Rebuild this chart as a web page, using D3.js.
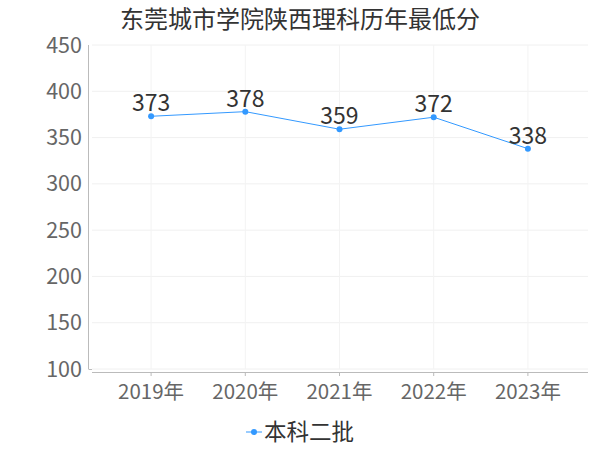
<!DOCTYPE html>
<html><head><meta charset="utf-8">
<script src="https://cdn.jsdelivr.net/npm/d3@7"></script>
<style>body{margin:0;background:#fff}text{font-family:"Noto Sans CJK SC","Noto Sans",sans-serif}</style>
</head><body><svg id="c" width="600" height="450"></svg>
<script>
const categories = ["2019年","2020年","2021年","2022年","2023年"];
const values = [373, 378, 359, 372, 338];
const yTicks = [100,150,200,250,300,350,400,450];
const seriesName = "本科二批";
const title = "东莞城市学院陕西理科历年最低分";

const svg = d3.select("#c");
const color = "#3399ff";
const x = d3.scalePoint().domain(categories).range([104, 575]).padding(0.5);
const y = d3.scaleLinear().domain([100, 450]).range([369, 45]);

// grid
svg.append("g").selectAll("line").data(yTicks).join("line")
  .attr("x1", 92).attr("x2", 588).attr("y1", d => y(d)).attr("y2", d => y(d))
  .attr("stroke", "#f0f0f0").attr("stroke-width", 1);
svg.append("g").selectAll("line").data(categories).join("line")
  .attr("x1", d => x(d)).attr("x2", d => x(d)).attr("y1", 45).attr("y2", 369)
  .attr("stroke", "#f3f3f3").attr("stroke-width", 1);

// y axis
svg.append("line").attr("x1", 88.5).attr("x2", 88.5).attr("y1", 45).attr("y2", 369).attr("stroke", "#bbb");
svg.append("line").attr("x1", 88.5).attr("x2", 92).attr("y1", 369.5).attr("y2", 369.5).attr("stroke", "#bbb");
svg.append("g").selectAll("text").data(yTicks).join("text")
  .attr("x", 82).attr("y", d => y(d)).attr("dy", "0.35em").attr("text-anchor", "end")
  .attr("font-size", 21.5).attr("fill", "#666").text(d => d);

// x axis
svg.append("line").attr("x1", 92).attr("x2", 588).attr("y1", 372.5).attr("y2", 372.5).attr("stroke", "#bbb");
svg.append("g").selectAll("line").data(categories).join("line")
  .attr("x1", d => x(d)).attr("x2", d => x(d)).attr("y1", 372).attr("y2", 376).attr("stroke", "#bbb");
svg.append("g").selectAll("text").data(categories).join("text")
  .attr("x", d => x(d)).attr("y", 392).attr("dy", "0.35em").attr("text-anchor", "middle")
  .attr("font-size", 20.5).attr("fill", "#666").text(d => d);

// line
const data = categories.map((c, i) => ({c, v: values[i]}));
svg.append("path").datum(data)
  .attr("d", d3.line().x(d => x(d.c)).y(d => y(d.v)))
  .attr("fill", "none").attr("stroke", color).attr("stroke-width", 1);
svg.append("g").selectAll("circle").data(data).join("circle")
  .attr("cx", d => x(d.c)).attr("cy", d => y(d.v)).attr("r", 3).attr("fill", color);
svg.append("g").selectAll("text").data(data).join("text")
  .attr("x", d => x(d.c)).attr("y", d => y(d.v) - 5).attr("text-anchor", "middle")
  .attr("font-size", 23).attr("fill", "#333").text(d => d.v);

// title
svg.append("text").attr("x", 300).attr("y", 20).attr("dy", "0.35em").attr("text-anchor", "middle")
  .attr("font-size", 24).attr("fill", "#333").text(title);

// legend
svg.append("line").attr("x1", 246).attr("x2", 262).attr("y1", 432).attr("y2", 432).attr("stroke", color);
svg.append("circle").attr("cx", 254).attr("cy", 432).attr("r", 3).attr("fill", color);
svg.append("text").attr("x", 264).attr("y", 432).attr("dy", "0.35em")
  .attr("font-size", 22.5).attr("fill", "#333").text(seriesName);
</script></body></html>
